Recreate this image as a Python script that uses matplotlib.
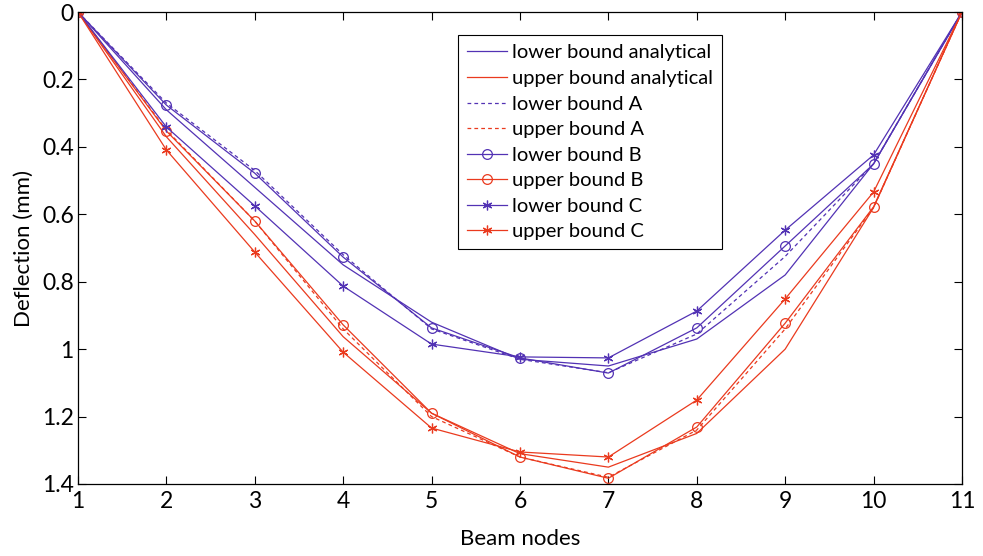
import matplotlib
matplotlib.use("Agg")
import matplotlib.pyplot as plt

plt.rcParams['font.family'] = ['Lato', 'DejaVu Sans']

nodes = [1, 2, 3, 4, 5, 6, 7, 8, 9, 10, 11]

lower_analytical = [0, 0.29, 0.52, 0.75, 0.92, 1.03, 1.05, 0.97, 0.78, 0.45, 0]
upper_analytical = [0, 0.37, 0.66, 0.963, 1.19, 1.31, 1.35, 1.25, 1.00, 0.58, 0]
lower_A = [0, 0.27, 0.47, 0.72, 0.94, 1.03, 1.07, 0.955, 0.725, 0.45, 0]
upper_A = [0, 0.35, 0.62, 0.94, 1.20, 1.32, 1.38, 1.24, 0.94, 0.58, 0]
lower_B = [0, 0.276, 0.478, 0.727, 0.937, 1.026, 1.071, 0.937, 0.694, 0.451, 0]
upper_B = [0, 0.353, 0.62, 0.928, 1.19, 1.32, 1.383, 1.231, 0.923, 0.578, 0]
lower_C = [0, 0.341, 0.575, 0.813, 0.985, 1.023, 1.026, 0.887, 0.647, 0.424, 0]
upper_C = [0, 0.409, 0.712, 1.009, 1.234, 1.305, 1.32, 1.151, 0.851, 0.534, 0]

blue = '#5232B4'
red = '#EA3A1E'
lw = 0.9
star = (6, 2, 0)

fig = plt.figure(figsize=(9.83, 5.56), dpi=100)
ax = fig.add_axes([0.0793, 0.1295, 0.8993, 0.8489])

ax.plot(nodes, lower_analytical, color=blue, lw=lw, label='lower bound analytical')
ax.plot(nodes, upper_analytical, color=red, lw=lw, label='upper bound analytical')
ax.plot(nodes, lower_A, color=blue, lw=lw, ls='--', dashes=(3, 2.5), label='lower bound A')
ax.plot(nodes, upper_A, color=red, lw=lw, ls='--', dashes=(3, 2.5), label='upper bound A')
ax.plot(nodes, lower_B, color=blue, lw=lw, marker='o', mfc='none', ms=7, mew=0.9, label='lower bound B')
ax.plot(nodes, upper_B, color=red, lw=lw, marker='o', mfc='none', ms=7, mew=0.9, label='upper bound B')
ax.plot(nodes, lower_C, color=blue, lw=lw, marker=star, ms=7, mew=0.9, label='lower bound C')
ax.plot(nodes, upper_C, color=red, lw=lw, marker=star, ms=7, mew=0.9, label='upper bound C')

ax.set_xlim(1, 11)
ax.set_ylim(1.4, 0)
ax.set_xticks(nodes)
ax.set_yticks([0, 0.2, 0.4, 0.6, 0.8, 1, 1.2, 1.4])
ax.set_yticklabels(['0', '0.2', '0.4', '0.6', '0.8', '1', '1.2', '1.4'])
ax.tick_params(direction='in', top=True, right=True, length=6, width=0.8, labelsize=16.5, pad=3)
ax.tick_params(axis='x', pad=5)
for s in ax.spines.values():
    s.set_linewidth(0.9)

ax.set_xlabel('Beam nodes', fontsize=16, labelpad=12)
ax.set_ylabel('Deflection (mm)', fontsize=16, labelpad=6)

leg = ax.legend(loc='upper left', bbox_to_anchor=(0.418, 0.972), fontsize=14.5,
                frameon=True, fancybox=False, edgecolor='black', framealpha=1,
                handlelength=2.0, handletextpad=0.25, labelspacing=0.42, borderpad=0.45)
leg.get_frame().set_linewidth(0.8)

fig.savefig('out.png', dpi=100)
